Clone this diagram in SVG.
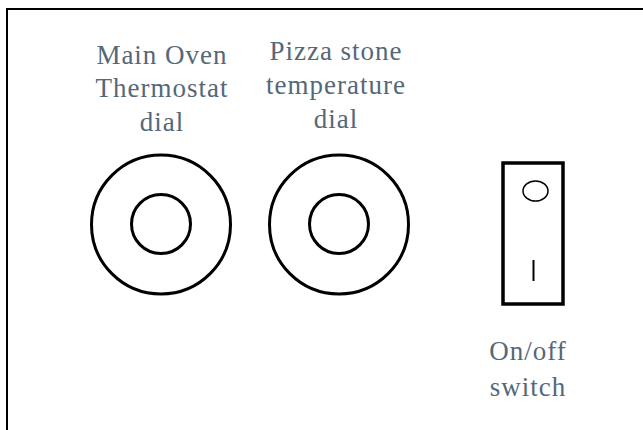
<svg xmlns="http://www.w3.org/2000/svg" width="643" height="430" viewBox="0 0 643 430">
  <style>
    .label { font-family: "Liberation Serif", "Times New Roman", serif; font-size: 27px; letter-spacing: 1px; fill: #556879; text-anchor: middle; }
    .ring { fill: none; stroke: #000; stroke-width: 3; }
  </style>
  <rect x="0" y="0" width="643" height="430" fill="#fff"/>
  <!-- panel outline, running off the right and bottom edges -->
  <rect x="7" y="9" width="700" height="500" fill="none" stroke="#000" stroke-width="2"/>

  <g id="main-oven-dial">
    <text class="label" x="162" y="63.5">Main Oven</text>
    <text class="label" x="162" y="97">Thermostat</text>
    <text class="label" x="162" y="130.5">dial</text>
    <circle class="ring" cx="161" cy="224.5" r="69.5"/>
    <circle class="ring" cx="161" cy="224" r="29.5"/>
  </g>

  <g id="pizza-stone-dial">
    <text class="label" x="336" y="59.5">Pizza stone</text>
    <text class="label" x="336" y="93.5">temperature</text>
    <text class="label" x="336" y="128">dial</text>
    <circle class="ring" cx="339" cy="224.5" r="69.5"/>
    <circle class="ring" cx="339" cy="224" r="29.5"/>
  </g>

  <g id="on-off-switch">
    <rect x="503" y="163" width="60" height="141" fill="none" stroke="#000" stroke-width="3.5"/>
    <ellipse cx="535.5" cy="191" rx="12.5" ry="10" fill="none" stroke="#000" stroke-width="1.5"/>
    <line x1="533.5" y1="260" x2="533.5" y2="281" stroke="#000" stroke-width="2"/>
    <text class="label" x="528" y="360">On/off</text>
    <text class="label" x="528" y="396">switch</text>
  </g>
</svg>
